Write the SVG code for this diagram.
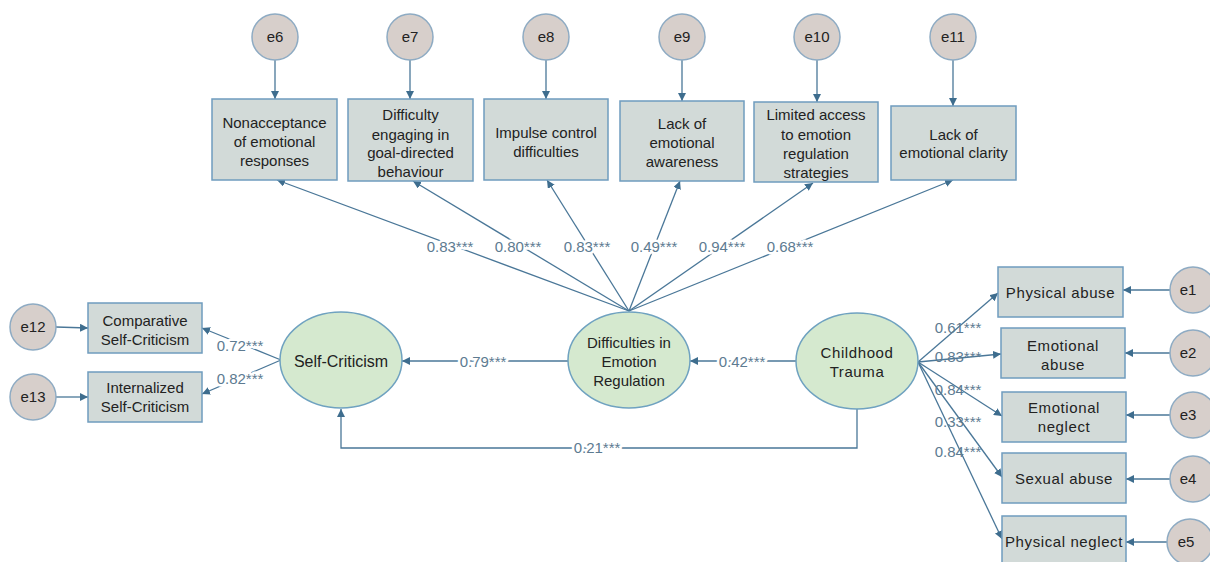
<svg xmlns="http://www.w3.org/2000/svg" width="1210" height="562" viewBox="0 0 1210 562">
<style>
.err{fill:#d7cfcb;stroke:#8eabc3;stroke-width:1.5}
.box{fill:#d2dad8;stroke:#6f9cbe;stroke-width:1.5}
.lat{fill:#d5e9cf;stroke:#6fa2c0;stroke-width:1.5}
.t{font-family:"Liberation Sans",Arial,sans-serif;font-size:15px;fill:#222;text-anchor:middle}
.tw{letter-spacing:0.6px}
.c{stroke:#4a7798;stroke-width:1.3;fill:none;marker-end:url(#ah)}
.n{font-family:"Liberation Sans",Arial,sans-serif;font-size:15px;fill:#5d7b91;text-anchor:middle;paint-order:stroke;stroke:#fff;stroke-width:5px;stroke-linejoin:round}
.n2{font-family:"Liberation Sans",Arial,sans-serif;font-size:15px;fill:#5d7b91;text-anchor:middle}
</style>
<defs>
<marker id="ah" viewBox="0 0 10 10" refX="10" refY="5" markerWidth="8" markerHeight="8" markerUnits="userSpaceOnUse" orient="auto">
<path d="M0,0 L10,5 L0,10 z" fill="#3e6d8e"/>
</marker>
</defs>
<rect width="1210" height="562" fill="#fff"/>

<g id="connectors">
<line class="c" x1="275" y1="60" x2="275" y2="99"/>
<line class="c" x1="410" y1="60" x2="410" y2="99"/>
<line class="c" x1="546" y1="60" x2="546" y2="99"/>
<line class="c" x1="682" y1="60" x2="682" y2="101"/>
<line class="c" x1="817" y1="60" x2="817" y2="102"/>
<line class="c" x1="953" y1="60" x2="953" y2="106"/>
<line class="c" x1="629" y1="311" x2="277" y2="180"/>
<line class="c" x1="629" y1="311" x2="413" y2="181"/>
<line class="c" x1="629" y1="311" x2="547" y2="180"/>
<line class="c" x1="629" y1="311" x2="680" y2="181"/>
<line class="c" x1="629" y1="311" x2="813" y2="183"/>
<line class="c" x1="629" y1="311" x2="953" y2="180"/>
<line class="c" x1="568" y1="361" x2="402" y2="361"/>
<line class="c" x1="796" y1="361" x2="690" y2="361"/>
<polyline class="c" points="857,409 857,448 341,448 341,409"/>
<line class="c" x1="281" y1="360" x2="202" y2="328"/>
<line class="c" x1="281" y1="360" x2="202" y2="394"/>
<line class="c" x1="56" y1="327" x2="88" y2="328"/>
<line class="c" x1="56" y1="397" x2="88" y2="397"/>
<line class="c" x1="918" y1="362" x2="998" y2="293"/>
<line class="c" x1="918" y1="362" x2="1001" y2="354"/>
<line class="c" x1="918" y1="362" x2="1002" y2="416"/>
<line class="c" x1="918" y1="362" x2="1002" y2="477"/>
<line class="c" x1="918" y1="362" x2="1002" y2="539"/>
<line class="c" x1="1170" y1="290" x2="1123" y2="290"/>
<line class="c" x1="1170" y1="353" x2="1125" y2="353"/>
<line class="c" x1="1170" y1="415" x2="1126" y2="415"/>
<line class="c" x1="1170" y1="479" x2="1126" y2="479"/>
<line class="c" x1="1167" y1="542" x2="1126" y2="542"/>
<text class="n" x="450" y="252">0.83***</text>
<text class="n" x="518" y="252">0.80***</text>
<text class="n" x="587" y="252">0.83***</text>
<text class="n" x="654" y="252">0.49***</text>
<text class="n" x="722" y="252">0.94***</text>
<text class="n" x="790" y="252">0.68***</text>
<text class="n" x="483" y="367">0.79***</text>
<text class="n" x="742" y="367">0.42***</text>
<text class="n" x="597" y="453">0.21***</text>
<text class="n" x="240" y="351">0.72***</text>
<text class="n" x="240" y="384">0.82***</text>
<text class="n2" x="958" y="333">0.61***</text>
<text class="n2" x="958" y="362">0.83***</text>
<text class="n2" x="958" y="395">0.84***</text>
<text class="n2" x="958" y="427">0.33***</text>
<text class="n2" x="958" y="457">0.84***</text>
</g>

<g id="e6"><circle class="err" cx="275" cy="37" r="23"/><text class="t" x="275" y="42">e6</text></g>
<g id="e7"><circle class="err" cx="410" cy="37" r="23"/><text class="t" x="410" y="42">e7</text></g>
<g id="e8"><circle class="err" cx="546" cy="37" r="23"/><text class="t" x="546" y="42">e8</text></g>
<g id="e9"><circle class="err" cx="682" cy="37" r="23"/><text class="t" x="682" y="42">e9</text></g>
<g id="e10"><circle class="err" cx="817" cy="37" r="23"/><text class="t" x="817" y="42">e10</text></g>
<g id="e11"><circle class="err" cx="953" cy="37" r="23"/><text class="t" x="953" y="42">e11</text></g>

<g id="nonacceptance"><rect class="box" x="212" y="99" width="125" height="81"/>
<text class="t" x="274.5" y="128">Nonacceptance</text><text class="t" x="274.5" y="147">of emotional</text><text class="t" x="274.5" y="166">responses</text></g>
<g id="goals"><rect class="box" x="348" y="99" width="125" height="82"/>
<text class="t" x="410.5" y="120">Difficulty</text><text class="t" x="410.5" y="140">engaging in</text><text class="t" x="410.5" y="158">goal-directed</text><text class="t" x="410.5" y="177">behaviour</text></g>
<g id="impulse"><rect class="box" x="484" y="99" width="124" height="81"/>
<text class="t" x="546" y="138">Impulse control</text><text class="t" x="546" y="157">difficulties</text></g>
<g id="awareness"><rect class="box" x="620" y="101" width="124" height="80"/>
<text class="t" x="682" y="129">Lack of</text><text class="t" x="682" y="148">emotional</text><text class="t" x="682" y="167">awareness</text></g>
<g id="strategies"><rect class="box" x="754" y="102" width="124" height="80"/>
<text class="t" x="816" y="120">Limited access</text><text class="t" x="816" y="140">to emotion</text><text class="t" x="816" y="159">regulation</text><text class="t" x="816" y="178">strategies</text></g>
<g id="clarity"><rect class="box" x="891" y="106" width="125" height="74"/>
<text class="t" x="953.5" y="140">Lack of</text><text class="t" x="953.5" y="158">emotional clarity</text></g>

<g id="der"><ellipse class="lat" cx="629" cy="360" rx="61" ry="48"/>
<text class="t" x="629" y="348">Difficulties in</text><text class="t" x="629" y="367">Emotion</text><text class="t" x="629" y="386">Regulation</text></g>
<g id="sc"><ellipse class="lat" cx="341" cy="360" rx="61" ry="48"/>
<text class="t" x="341" y="367" style="font-size:16px">Self-Criticism</text></g>
<g id="ct"><ellipse class="lat" cx="857" cy="361" rx="61" ry="48"/>
<text class="t tw" x="857" y="358">Childhood</text><text class="t tw" x="857" y="377">Trauma</text></g>

<g id="e12"><circle class="err" cx="33" cy="327" r="23"/><text class="t" x="33" y="332">e12</text></g>
<g id="e13"><circle class="err" cx="33" cy="397" r="23"/><text class="t" x="33" y="402">e13</text></g>
<g id="comparative"><rect class="box" x="88" y="303" width="114" height="50"/>
<text class="t" x="145" y="326">Comparative</text><text class="t" x="145" y="345">Self-Criticism</text></g>
<g id="internalized"><rect class="box" x="88" y="372" width="114" height="50"/>
<text class="t" x="145" y="393">Internalized</text><text class="t" x="145" y="412">Self-Criticism</text></g>

<g id="physabuse"><rect class="box" x="998" y="267" width="125" height="50"/>
<text class="t tw" x="1060.5" y="298">Physical abuse</text></g>
<g id="emoabuse"><rect class="box" x="1001" y="328" width="124" height="50"/>
<text class="t tw" x="1063" y="351">Emotional</text><text class="t tw" x="1063" y="370">abuse</text></g>
<g id="emoneglect"><rect class="box" x="1002" y="392" width="124" height="50"/>
<text class="t tw" x="1064" y="413">Emotional</text><text class="t tw" x="1064" y="432">neglect</text></g>
<g id="sexabuse"><rect class="box" x="1002" y="453" width="124" height="50"/>
<text class="t tw" x="1064" y="484">Sexual abuse</text></g>
<g id="physneglect"><rect class="box" x="1002" y="516" width="124" height="50"/>
<text class="t tw" x="1064" y="547">Physical neglect</text></g>

<g id="e1"><circle class="err" cx="1193" cy="290" r="23"/><text class="t" x="1188" y="295">e1</text></g>
<g id="e2"><circle class="err" cx="1193" cy="353" r="23"/><text class="t" x="1188" y="358">e2</text></g>
<g id="e3"><circle class="err" cx="1193" cy="415" r="23"/><text class="t" x="1188" y="420">e3</text></g>
<g id="e4"><circle class="err" cx="1193" cy="479" r="23"/><text class="t" x="1188" y="484">e4</text></g>
<g id="e5"><circle class="err" cx="1190" cy="542" r="23"/><text class="t" x="1186" y="547">e5</text></g>
</svg>
